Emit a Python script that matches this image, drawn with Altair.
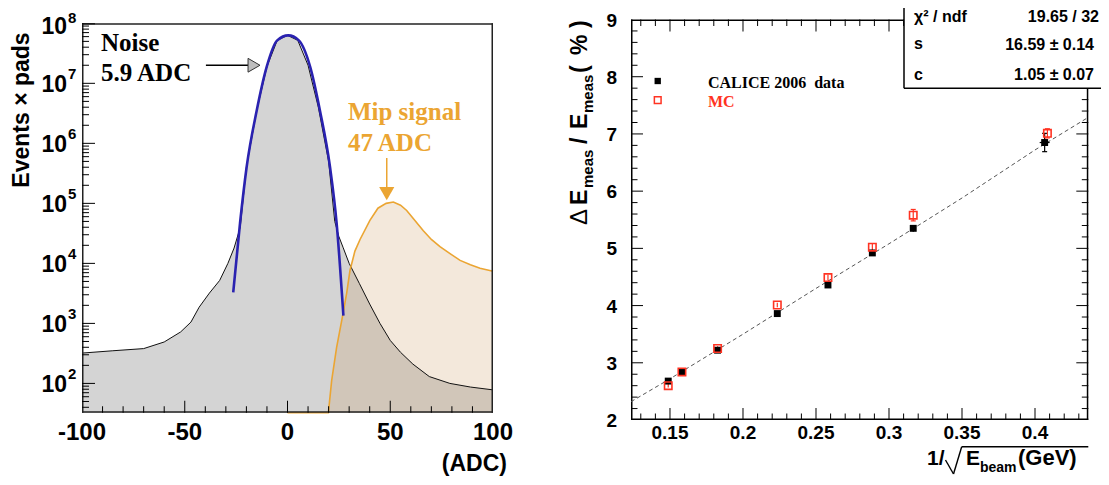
import altair as alt
import pandas as pd

# ---------------- left panel data : pad signal (ADC) vs events x pads ----------------
noise_adc = [-100, -85, -70, -60, -52, -47, -43, -38, -33, -29,
             -26, -23, -20, -15, -10, -5, 0, 5, 10, 15,
             20, 23, 25, 27, 30, 35, 40, 45, 50, 55,
             61, 69, 79, 89, 100]
noise_counts = [320, 350, 380, 490, 720, 1050, 1860, 3200, 5200, 10000,
                18000, 40000, 400000, 3.5e6, 1.9e7, 5.2e7, 6.3e7, 5.2e7, 2.0e7, 4.0e6,
                5.0e5, 50000, 28000, 18600, 10000, 4600, 2100, 1000, 520, 330,
                210, 130, 100, 87, 78]

fit_adc = [-26.4, -23.1, -19.9, -15.0, -10.1, -5.0, 0.4, 5.5, 11.0, 15.8, 20.7, 23.9, 27.2]
fit_counts = [3300, 47000, 4.0e5, 3.5e6, 1.9e7, 5.2e7, 6.3e7, 5.2e7, 1.9e7, 3.5e6, 4.0e5, 47000, 1350]

mip_adc = [0, 19.9, 21.5, 23.9, 26.4, 28.8, 30.4, 32.8, 35.3, 40.1,
           44, 48, 51.5, 55, 58, 62, 66.1, 70, 74.2, 79.1,
           84, 89, 93.7, 100]
mip_counts = [32.5, 32.5, 112, 400, 1120, 3200, 7600, 16000, 25000, 52000,
              83000, 100000, 105000, 93000, 76000, 52000, 35000, 25000, 19000, 14500,
              11200, 9500, 8300, 7400]

# ---------------- right panel data : resolution vs 1/sqrt(E) ----------------
data_x = [0.1488, 0.1582, 0.1826, 0.2235, 0.2582, 0.2886, 0.3166, 0.4066]
data_y = [2.68, 2.83, 3.22, 3.86, 4.36, 4.92, 5.35, 6.85]
data_yerr = [0.03, 0.03, 0.03, 0.04, 0.04, 0.05, 0.06, 0.16]
data_xerr = [0.0, 0.0, 0.0, 0.0, 0.0, 0.0, 0.0, 0.0034]
mc_x = [0.1488, 0.1582, 0.1826, 0.2235, 0.2582, 0.2886, 0.3166, 0.4085]
mc_y = [2.60, 2.84, 3.25, 4.01, 4.49, 5.02, 5.58, 7.01]
mc_yerr = [0.03, 0.03, 0.04, 0.04, 0.05, 0.06, 0.10, 0.08]
fitline_x = [0.1233, 0.15, 0.2, 0.25, 0.3, 0.35, 0.4, 0.4365]
fitline_y = [2.32, 2.72, 3.5, 4.3, 5.08, 5.88, 6.72, 7.29]

# tick values / labels
lx_major = [-100, -50, 0, 50, 100]
lx_labels = ["-100", "-50", "0", "50", "100"]
lx_minor = [-90, -80, -70, -60, -40, -30, -20, -10, 10, 20, 30, 40, 60, 70, 80, 90]
ly_major = [1e2, 1e3, 1e4, 1e5, 1e6, 1e7]
ly_exp = ["2", "3", "4", "5", "6", "7"]
ly_top, ly_top_exp = 1e8, "8"
ly_minor = [m * 10 ** k for k in range(1, 8) for m in range(2, 10) if m * 10 ** k >= 32.5]
rx_major = [0.15, 0.2, 0.25, 0.3, 0.35, 0.4]
rx_labels = ["0.15", "0.2", "0.25", "0.3", "0.35", "0.4"]
rx_minor = [round(0.13 + 0.01 * i, 2) for i in range(31)]
rx_minor = [v for v in rx_minor if min(abs(v - m) for m in rx_major) > 1e-6]
ry_major = [2, 3, 4, 5, 6, 7, 8, 9]
ry_labels = ["2", "3", "4", "5", "6", "7", "8", "9"]
ry_minor = [round(2 + 0.2 * i, 1) for i in range(36)]
ry_minor = [v for v in ry_minor if abs(v - round(v)) > 1e-6]

# ---------------- geometry (svg pixels) ----------------
W, H = 1093, 469
LX = [74, 485]
LY = [404.7, 15.3]
RX = [623, 1080.3]
RY = [412, 11.5]
L_DOM_X = [-100, 100]
L_DOM_Y = [32.5, 1e8]
R_DOM_X = [0.1233, 0.4365]
R_DOM_Y = [2, 9]
BOX = [896, 80.3]          # stats box: left edge x, bottom edge y (pixels)
ORANGE = "#eba532"
RED = "#ff3322"
BLUE = "#2a22b0"

xsL = alt.Scale(domain=L_DOM_X, range=LX, nice=False, zero=False)
ysL = alt.Scale(type="log", domain=L_DOM_Y, range=LY, nice=False)
xsR = alt.Scale(domain=R_DOM_X, range=RX, nice=False, zero=False)
ysR = alt.Scale(domain=R_DOM_Y, range=RY, nice=False, zero=False)

# data units per pixel
L_PX = (L_DOM_X[1] - L_DOM_X[0]) / (LX[1] - LX[0])
L_DEC = 6.4881 / (LY[0] - LY[1])                    # decades per pixel
R_PX = (R_DOM_X[1] - R_DOM_X[0]) / (RX[1] - RX[0])
R_PY = (R_DOM_Y[1] - R_DOM_Y[0]) / (RY[0] - RY[1])
BOX_X = R_DOM_X[0] + (BOX[0] - RX[0]) * R_PX
BOX_Y = R_DOM_Y[1] - (BOX[1] - RY[1]) * R_PY


def bands(rects, xs, ys, color="black"):
    """rects: list of (x0, x1, ylow, yhigh) in data units, filled as thin areas."""
    recs = []
    for k, (a, b, lo, hi) in enumerate(rects):
        recs.append({"bid": k, "bx": a, "blo": lo, "bhi": hi})
        recs.append({"bid": k, "bx": b, "blo": lo, "bhi": hi})
    return alt.Chart(pd.DataFrame(recs)).mark_area(color=color, opacity=1).encode(
        x=alt.X("bx:Q", scale=xs, axis=None),
        y=alt.Y("bhi:Q", scale=ys, axis=None, stack=False), y2="blo:Q",
        detail="bid:N")


def prule(x, y, x2=None, y2=None, w=1.5, color="black"):
    enc = {"x": alt.value(x), "y": alt.value(y)}
    if x2 is not None:
        enc["x2"] = alt.value(x2)
    if y2 is not None:
        enc["y2"] = alt.value(y2)
    return alt.Chart(pd.DataFrame({"s": [x + y + w]})).mark_rule(
        color=color, strokeWidth=w, strokeCap="butt").encode(**enc)


def segs(rows, xs, ys, color="black", w=1.0):
    """rows: list of (x, x2, y, y2) in data units, drawn as separate 2-point lines."""
    recs = []
    for k, (a, b, c, d) in enumerate(rows):
        recs.append({"sid": k, "ord": 0, "sx": a, "sy": c})
        recs.append({"sid": k, "ord": 1, "sx": b, "sy": d})
    return alt.Chart(pd.DataFrame(recs)).mark_line(color=color, strokeWidth=w).encode(
        x=alt.X("sx:Q", scale=xs, axis=None), y=alt.Y("sy:Q", scale=ys, axis=None),
        detail="sid:N", order="ord:Q")


def ptext(s, x, y, size, align="left", baseline="alphabetic", angle=0,
          font="Liberation Sans", weight="bold", color="black"):
    return alt.Chart(pd.DataFrame({"s": [s]})).mark_text(
        align=align, baseline=baseline, angle=angle, font=font, fontSize=size,
        fontWeight=weight, color=color).encode(x=alt.value(x), y=alt.value(y), text="s:N")


def dtext(s, x, y, xs, ys, size, font="Liberation Serif", color="black", align="left"):
    return alt.Chart(pd.DataFrame({"s": [s], "x": [x], "y": [y]})).mark_text(
        align=align, baseline="alphabetic", font=font, fontSize=size, fontWeight="bold",
        color=color).encode(x=alt.X("x:Q", scale=xs, axis=None),
                            y=alt.Y("y:Q", scale=ys, axis=None), text="s:N")


def ylabels(vals, texts, xpix, ys, size, dy, align):
    return alt.Chart(pd.DataFrame({"v": vals, "s": texts})).mark_text(
        align=align, baseline="middle", dy=dy, font="Liberation Sans", fontSize=size,
        fontWeight="bold").encode(x=alt.value(xpix), y=alt.Y("v:Q", scale=ys, axis=None), text="s:N")


def xlabels(vals, texts, xs, ypix, size):
    return alt.Chart(pd.DataFrame({"v": vals, "s": texts})).mark_text(
        align="center", baseline="middle", font="Liberation Sans", fontSize=size,
        fontWeight="bold").encode(x=alt.X("v:Q", scale=xs, axis=None), y=alt.value(ypix), text="s:N")


# ---------------- left panel ----------------
noise_df = pd.DataFrame({"adc": noise_adc, "cnt": noise_counts})
noise_df["base"] = L_DOM_Y[0]
fit_df = pd.DataFrame({"adc": fit_adc, "cnt": fit_counts})
mip_df = pd.DataFrame({"adc": mip_adc, "cnt": mip_counts})
mip_df["base"] = L_DOM_Y[0]
XL = alt.X("adc:Q", scale=xsL, axis=None)
YL = alt.Y("cnt:Q", scale=ysL, axis=None)

grey = alt.Chart(noise_df).mark_area(color="#d4d4d4", opacity=1).encode(x=XL, y=YL, y2="base:Q")
mip_area = alt.Chart(mip_df).mark_area(color="#c8985a", opacity=0.22).encode(x=XL, y=YL, y2="base:Q")
noise_line = alt.Chart(noise_df).mark_line(color="#111111", strokeWidth=1).encode(x=XL, y=YL)
mip_line = alt.Chart(mip_df).mark_line(color=ORANGE, strokeWidth=1.6).encode(x=XL, y=YL)
fit_line = alt.Chart(fit_df).mark_line(color=BLUE, strokeWidth=2.6, interpolate="monotone").encode(
    x=XL, y=YL)

lx0, lx1 = L_DOM_X
ly0, ly1 = L_DOM_Y
fw = 1.5
frameL = bands([
    (lx0, lx1, ly0, ly0 * 10 ** (fw * L_DEC)),
    (lx0, lx1, ly1 / 10 ** (fw * L_DEC), ly1),
    (lx0, lx0 + fw * L_PX, ly0, ly1),
    (lx1 - fw * L_PX, lx1, ly0, ly1),
], xsL, ysL, color="#222222")
hw = 10 ** (0.5 * L_DEC)
ticksL = bands(
    [(lx0, lx0 + 13 * L_PX, v / hw, v * hw) for v in ly_major + [ly_top / hw]]
    + [(lx0, lx0 + 7 * L_PX, v / hw, v * hw) for v in ly_minor]
    + [(v - 0.5 * L_PX, v + 0.5 * L_PX, ly0, ly0 * 10 ** (12 * L_DEC)) for v in lx_major[1:-1]]
    + [(v - 0.5 * L_PX, v + 0.5 * L_PX, ly0, ly0 * 10 ** (6.5 * L_DEC)) for v in lx_minor],
    xsL, ysL)

noise_arrow = alt.Chart(pd.DataFrame({"adc": [-39.7, -19.2], "cnt": [2.0e7, 2.0e7]})).mark_line(
    color="black", strokeWidth=1.5).encode(x=XL, y=YL)
noise_head = alt.Chart(pd.DataFrame({"adc": [-16.3], "cnt": [2.0e7]})).mark_point(
    shape="triangle-right", size=190, filled=True, fill="#bdbdbd", stroke="#333333",
    strokeWidth=1, opacity=1).encode(x=XL, y=YL)
mip_arrow = alt.Chart(pd.DataFrame({"adc": [48.3, 48.3], "cnt": [5.7e5, 1.66e5]})).mark_line(
    color=ORANGE, strokeWidth=1.5).encode(x=XL, y=YL)
mip_head = alt.Chart(pd.DataFrame({"adc": [48.3], "cnt": [1.45e5]})).mark_point(
    shape="triangle-down", size=230, filled=True, fill=ORANGE, opacity=1, strokeWidth=0).encode(x=XL, y=YL)

left = alt.layer(
    grey, mip_area, noise_line, mip_line, fit_line, frameL, ticksL,
    ylabels(ly_major, ["10"] * len(ly_major), 59, ysL, 23, 1.5, "right"),
    ylabels(ly_major, ly_exp, 60, ysL, 15, -9, "left"),
    ylabels([ly_top], ["10"], 59, ysL, 23, 3.5, "right"),
    ylabels([ly_top], [ly_top_exp], 60, ysL, 15, -5, "left"),
    xlabels(lx_major, lx_labels, xsL, 425, 24),
    ptext("Events \u00d7 pads", 21, 102, 23, align="center", angle=270),
    ptext("(ADC)", 499, 463, 23, align="right"),
    dtext("Noise", -90.8, 3.4e7, xsL, ysL, 25),
    dtext("5.9 ADC", -90.8, 1.09e7, xsL, ysL, 25),
    noise_arrow, noise_head,
    dtext("Mip signal", 29.4, 2.45e6, xsL, ysL, 25, color=ORANGE),
    dtext("47 ADC", 29.4, 7.4e5, xsL, ysL, 25, color=ORANGE),
    mip_arrow, mip_head,
)

# ---------------- right panel ----------------
XR = alt.X("x:Q", scale=xsR, axis=None)
YR = alt.Y("y:Q", scale=ysR, axis=None)
d_df = pd.DataFrame({"x": data_x, "y": data_y, "ey": data_yerr, "ex": data_xerr})
d_df["lo"] = d_df["y"] - d_df["ey"]
d_df["hi"] = d_df["y"] + d_df["ey"]
m_df = pd.DataFrame({"x": mc_x, "y": mc_y, "ey": mc_yerr})
m_df["lo"] = m_df["y"] - m_df["ey"]
m_df["hi"] = m_df["y"] + m_df["ey"]
f_df = pd.DataFrame({"x": fitline_x, "y": fitline_y})

rx0, rx1 = R_DOM_X
ry0, ry1 = R_DOM_Y
frameR = bands([
    (rx0, rx1, ry0, ry0 + fw * R_PY),
    (rx0, BOX_X, ry1 - fw * R_PY, ry1),
    (rx0, rx0 + fw * R_PX, ry0, ry1),
    (rx1 - fw * R_PX, rx1, ry0, BOX_Y),
], xsR, ysR)
hy, hx = 0.5 * R_PY, 0.5 * R_PX
tl, ts = 12, 6.5
ticksR = bands(
    [(rx0, rx0 + tl * R_PX, v - hy, v + hy) for v in ry_major[1:-1]]
    + [(rx0, rx0 + ts * R_PX, v - hy, v + hy) for v in ry_minor]
    + [(rx1 - tl * R_PX, rx1, v - hy, v + hy) for v in ry_major[1:] if v < BOX_Y]
    + [(rx1 - ts * R_PX, rx1, v - hy, v + hy) for v in ry_minor if v < BOX_Y]
    + [(v - hx, v + hx, ry0, ry0 + tl * R_PY) for v in rx_major]
    + [(v - hx, v + hx, ry0, ry0 + ts * R_PY) for v in rx_minor]
    + [(v - hx, v + hx, ry1 - tl * R_PY, ry1) for v in rx_major if v < BOX_X]
    + [(v - hx, v + hx, ry1 - ts * R_PY, ry1) for v in rx_minor if v < BOX_X],
    xsR, ysR)

fitR = alt.Chart(f_df).mark_line(color="#555555", strokeWidth=1, strokeDash=[4, 3]).encode(x=XR, y=YR)
err_d = bands([(x - 0.6 * R_PX, x + 0.6 * R_PX, lo, hi) for x, lo, hi in zip(data_x, d_df["lo"], d_df["hi"])]
              + [(x - ex, x + ex, y - 0.6 * R_PY, y + 0.6 * R_PY)
                 for x, y, ex in zip(data_x, data_y, data_xerr) if ex > 0]
              + [(x - 2.5 * R_PX, x + 2.5 * R_PX, yy - 0.6 * R_PY, yy + 0.6 * R_PY)
                 for x, lo, hi, ey in zip(data_x, d_df["lo"], d_df["hi"], data_yerr) if ey > 0.06
                 for yy in (lo, hi)],
              xsR, ysR)
err_m = bands([(x - 0.6 * R_PX, x + 0.6 * R_PX, lo, hi) for x, lo, hi in zip(mc_x, m_df["lo"], m_df["hi"])]
              + [(x - 2.5 * R_PX, x + 2.5 * R_PX, yy - 0.6 * R_PY, yy + 0.6 * R_PY)
                 for x, lo, hi, ey in zip(mc_x, m_df["lo"], m_df["hi"], mc_yerr) if ey > 0.06
                 for yy in (lo, hi)],
              xsR, ysR, color=RED)
d_pts = alt.Chart(d_df).mark_square(size=48, color="black", filled=True, opacity=1).encode(x=XR, y=YR)
m_pts = alt.Chart(m_df).mark_square(size=55, filled=False, color=RED, strokeWidth=1.6, opacity=1).encode(
    x=XR, y=YR)

leg_d = alt.Chart(pd.DataFrame({"x": [0.1416], "y": [7.925]})).mark_square(
    size=40, color="black", filled=True, opacity=1).encode(x=XR, y=YR)
leg_m = alt.Chart(pd.DataFrame({"x": [0.1416], "y": [7.59]})).mark_square(
    size=45, filled=False, color=RED, strokeWidth=1.5, opacity=1).encode(x=XR, y=YR)

right = alt.layer(
    frameR, ticksR,
    fitR, err_d, err_m, d_pts, m_pts,
    leg_d, leg_m,
    dtext("CALICE 2006\u00a0 data", 0.176, 7.797, xsR, ysR, 16),
    dtext("MC", 0.176, 7.465, xsR, ysR, 16, color=RED),
    ylabels(ry_major, ry_labels, 609, ysR, 19, 1, "right"),
    xlabels(rx_major, rx_labels, xsR, 425, 19),
    prule(BOX[0], 0, y2=BOX[1]), prule(BOX[0], BOX[1], x2=W),
    ptext("\u03c7\u00b2 / ndf", 906, 13.5, 16),
    ptext("19.65 / 32", 1091, 13.5, 16, align="right"),
    ptext("s", 906, 40.5, 16),
    ptext("16.59 \u00b1 0.14", 1086, 42, 16, align="right"),
    ptext("c", 906, 72, 16),
    ptext("1.05 \u00b1 0.07", 1086, 72, 16, align="right"),
    # y title
    ptext("\u0394", 579, 217, 24, angle=270, weight="normal"),
    ptext("E", 579, 197, 23, angle=270),
    ptext("meas", 585, 180, 15, angle=270),
    ptext("/", 579, 136, 23, angle=270),
    ptext("E", 579, 121, 23, angle=270),
    ptext("meas", 585, 105, 15, angle=270),
    ptext("(", 579, 65, 23, angle=270),
    ptext("%", 579, 47, 23, angle=270),
    ptext(")", 579, 20, 23, angle=270),
    # x title: 1/sqrt(E_beam (GeV))
    ptext("1/", 919, 457, 21),
    ptext("E", 958, 457, 21),
    ptext("beam", 972, 464, 14),
    ptext("(GeV)", 1010, 457, 22),
    prule(937.5, 452, x2=945.5, y2=466, w=1.4),
    prule(945.5, 466, x2=953.7, y2=438.7, w=1.4),
    prule(953.7, 438.7, x2=1080.3, w=1.5),
)

chart = alt.layer(left, right).resolve_scale(x="independent", y="independent").properties(
    width=W, height=H, padding=0, autosize=alt.AutoSizeParams(type="none")
).configure_view(stroke=None)

chart.save("out.html", embed_options={"renderer": "svg", "actions": False})
